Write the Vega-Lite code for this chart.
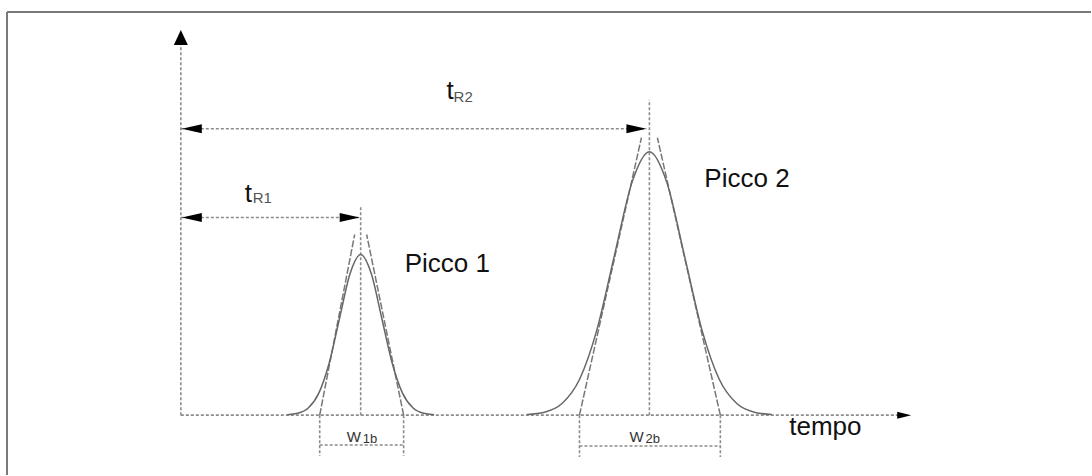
{
  "$schema": "https://vega.github.io/schema/vega-lite/v6.json",
  "width": 1092,
  "height": 476,
  "autosize": {"type": "fit", "contains": "padding"},
  "padding": 0,
  "background": "white",
  "config": {"view": {"stroke": null}},
  "datasets": {
    "border": [
      {"t1": -174, "s1": 404, "t2": 911, "s2": 404},
      {"t1": -174, "s1": 404, "t2": -174, "s2": -60}
    ],
    "dashed": [
      {"t1": 0, "s1": 0, "t2": 0, "s2": 374},
      {"t1": 0, "s1": 0, "t2": 720, "s2": 0},
      {"t1": 0, "s1": 198, "t2": 180, "s2": 198},
      {"t1": 0, "s1": 287, "t2": 466, "s2": 287},
      {"t1": 180, "s1": 0, "t2": 180, "s2": 209},
      {"t1": 469, "s1": 0, "t2": 469, "s2": 316},
      {"t1": 139, "s1": 0, "t2": 139, "s2": -41},
      {"t1": 223, "s1": 0, "t2": 223, "s2": -41},
      {"t1": 399, "s1": 0, "t2": 399, "s2": -42},
      {"t1": 540, "s1": 0, "t2": 540, "s2": -42},
      {"t1": 139, "s1": -30, "t2": 223, "s2": -30},
      {"t1": 399, "s1": -31, "t2": 540, "s2": -31}
    ],
    "tangents": [
      {"t1": 139, "s1": 0, "t2": 174, "s2": 181},
      {"t1": 223, "s1": 0, "t2": 186, "s2": 181},
      {"t1": 399, "s1": 0, "t2": 461, "s2": 278},
      {"t1": 540, "s1": 0, "t2": 477, "s2": 278}
    ],
    "peaks": [
      {"peak": "1", "t": 106.5, "s": 0.35},
      {"peak": "1", "t": 117, "s": 1.8},
      {"peak": "1", "t": 127.5, "s": 7.1},
      {"peak": "1", "t": 138, "s": 21.8},
      {"peak": "1", "t": 148.5, "s": 52.3},
      {"peak": "1", "t": 159, "s": 97.6},
      {"peak": "1", "t": 169.5, "s": 142.1},
      {"peak": "1", "t": 180, "s": 161},
      {"peak": "1", "t": 190.5, "s": 142.1},
      {"peak": "1", "t": 201, "s": 97.6},
      {"peak": "1", "t": 211.5, "s": 52.3},
      {"peak": "1", "t": 222, "s": 21.8},
      {"peak": "1", "t": 232.5, "s": 7.1},
      {"peak": "1", "t": 243, "s": 1.8},
      {"peak": "1", "t": 253.5, "s": 0.35},
      {"peak": "2", "t": 346.5, "s": 0.6},
      {"peak": "2", "t": 364, "s": 2.9},
      {"peak": "2", "t": 381.5, "s": 11.6},
      {"peak": "2", "t": 399, "s": 35.7},
      {"peak": "2", "t": 416.5, "s": 85.7},
      {"peak": "2", "t": 434, "s": 160.1},
      {"peak": "2", "t": 451.5, "s": 233},
      {"peak": "2", "t": 469, "s": 264},
      {"peak": "2", "t": 486.5, "s": 233},
      {"peak": "2", "t": 504, "s": 160.1},
      {"peak": "2", "t": 521.5, "s": 85.7},
      {"peak": "2", "t": 539, "s": 35.7},
      {"peak": "2", "t": 556.5, "s": 11.6},
      {"peak": "2", "t": 574, "s": 2.9},
      {"peak": "2", "t": 591.5, "s": 0.6}
    ],
    "arrows": [
      {"t": 1, "s": 198, "dir": "left"},
      {"t": 179, "s": 198, "dir": "right"},
      {"t": 1, "s": 287, "dir": "left"},
      {"t": 466, "s": 287, "dir": "right"},
      {"t": 0, "s": 386, "dir": "up"},
      {"t": 731, "s": 0, "dir": "end"}
    ],
    "bigText": [
      {"t": 64, "s": 214, "label": "t"},
      {"t": 266, "s": 317, "label": "t"},
      {"t": 524, "s": 229, "label": "Picco 2"},
      {"t": 224, "s": 143, "label": "Picco 1"},
      {"t": 609, "s": -20, "label": "tempo"}
    ],
    "subText": [
      {"t": 72, "s": 213, "label": "R1"},
      {"t": 273, "s": 314, "label": "R2"}
    ],
    "wText": [
      {"t": 166, "s": -27, "label": "W"},
      {"t": 449, "s": -27, "label": "W"}
    ],
    "wSub": [
      {"t": 182, "s": -28, "label": "1b"},
      {"t": 465, "s": -28, "label": "2b"}
    ]
  },
  "encoding": {
    "x": {"type": "quantitative", "scale": {"domain": [-181, 911], "nice": false, "zero": false}, "axis": null},
    "y": {"type": "quantitative", "scale": {"domain": [-60, 416], "nice": false, "zero": false}, "axis": null}
  },
  "layer": [
    {
      "data": {"name": "border"},
      "mark": {"type": "rule", "color": "#7a7a7a", "strokeWidth": 2},
      "encoding": {
        "x": {"field": "t1", "type": "quantitative"},
        "y": {"field": "s1", "type": "quantitative"},
        "x2": {"field": "t2"},
        "y2": {"field": "s2"}
      }
    },
    {
      "data": {"name": "dashed"},
      "mark": {"type": "rule", "color": "#8c8c8c", "strokeWidth": 1.6, "strokeDash": [3, 2]},
      "encoding": {
        "x": {"field": "t1", "type": "quantitative"},
        "y": {"field": "s1", "type": "quantitative"},
        "x2": {"field": "t2"},
        "y2": {"field": "s2"}
      }
    },
    {
      "data": {"name": "tangents"},
      "mark": {"type": "rule", "color": "#777777", "strokeWidth": 1.5, "strokeDash": [7, 2]},
      "encoding": {
        "x": {"field": "t1", "type": "quantitative"},
        "y": {"field": "s1", "type": "quantitative"},
        "x2": {"field": "t2"},
        "y2": {"field": "s2"}
      }
    },
    {
      "data": {"name": "peaks"},
      "mark": {"type": "line", "color": "#666666", "strokeWidth": 1.5, "interpolate": "monotone"},
      "encoding": {
        "x": {"field": "t", "type": "quantitative"},
        "y": {"field": "s", "type": "quantitative"},
        "detail": {"field": "peak", "type": "nominal"}
      }
    },
    {
      "data": {"name": "arrows"},
      "mark": {"type": "point", "filled": true, "color": "black", "opacity": 1, "size": 400, "strokeWidth": 0},
      "encoding": {
        "x": {"field": "t", "type": "quantitative"},
        "y": {"field": "s", "type": "quantitative"},
        "shape": {
          "field": "dir", "type": "nominal", "legend": null,
          "scale": {
            "domain": ["left", "right", "up", "end"],
            "range": ["M0,0L2,-0.45L2,0.45Z", "M0,0L-2,-0.45L-2,0.45Z", "M0,0L-0.7,1.5L0.7,1.5Z", "M0,0L-1.4,-0.35L-1.4,0.35Z"]
          }
        }
      }
    },
    {
      "data": {"name": "bigText"},
      "mark": {"type": "text", "font": "Liberation Sans", "fontSize": 26, "align": "left", "baseline": "alphabetic", "color": "#111111"},
      "encoding": {
        "x": {"field": "t", "type": "quantitative"},
        "y": {"field": "s", "type": "quantitative"},
        "text": {"field": "label"}
      }
    },
    {
      "data": {"name": "subText"},
      "mark": {"type": "text", "font": "Liberation Sans", "fontSize": 15, "align": "left", "baseline": "alphabetic", "color": "#555555"},
      "encoding": {
        "x": {"field": "t", "type": "quantitative"},
        "y": {"field": "s", "type": "quantitative"},
        "text": {"field": "label"}
      }
    },
    {
      "data": {"name": "wText"},
      "mark": {"type": "text", "font": "Liberation Sans", "fontSize": 15, "align": "left", "baseline": "alphabetic", "color": "#333333"},
      "encoding": {
        "x": {"field": "t", "type": "quantitative"},
        "y": {"field": "s", "type": "quantitative"},
        "text": {"field": "label"}
      }
    },
    {
      "data": {"name": "wSub"},
      "mark": {"type": "text", "font": "Liberation Sans", "fontSize": 13, "align": "left", "baseline": "alphabetic", "color": "#333333"},
      "encoding": {
        "x": {"field": "t", "type": "quantitative"},
        "y": {"field": "s", "type": "quantitative"},
        "text": {"field": "label"}
      }
    }
  ]
}
